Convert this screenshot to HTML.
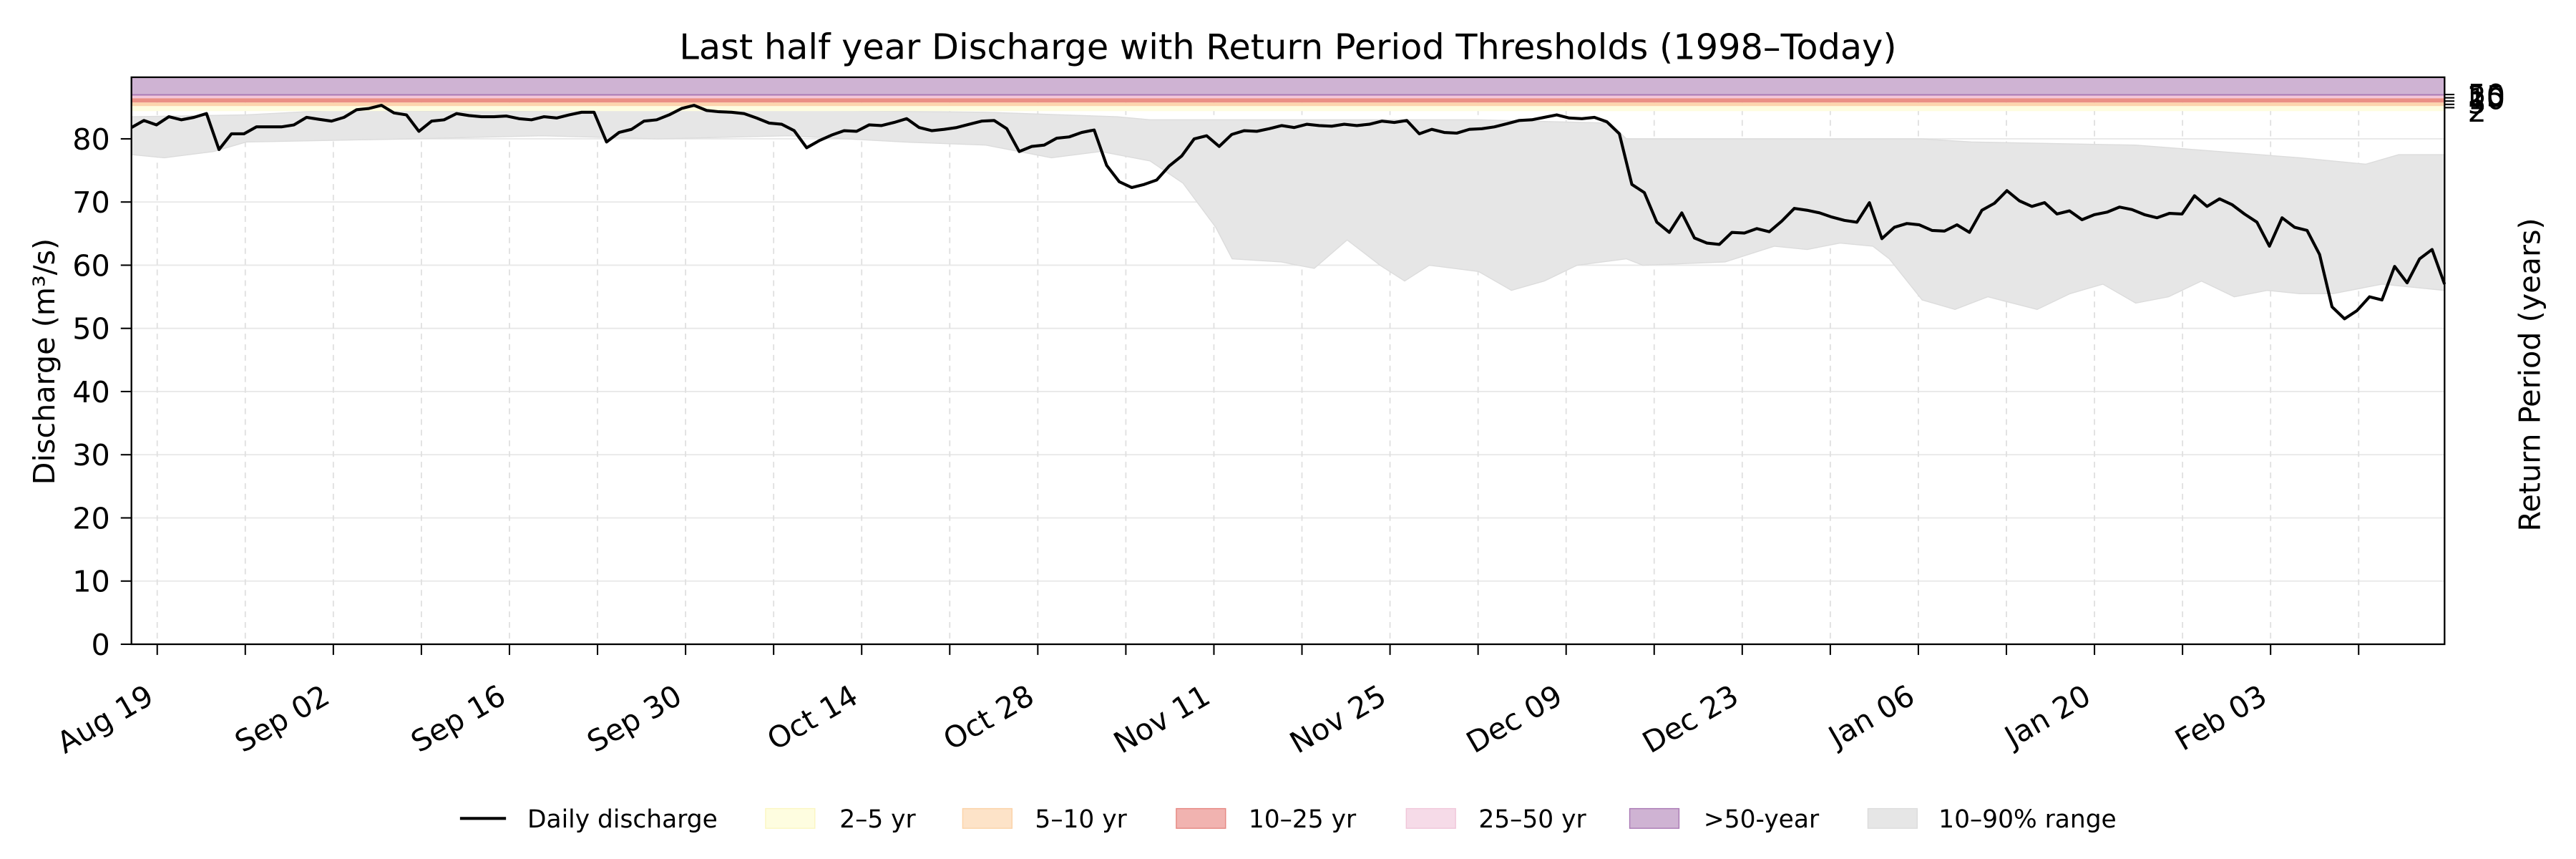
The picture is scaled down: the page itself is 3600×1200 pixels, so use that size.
<!DOCTYPE html>
<html><head><meta charset="utf-8"><style>
html,body{margin:0;padding:0;background:#fff}
svg{display:block}
text{font-family:"DejaVu Sans","Liberation Sans",sans-serif;fill:#000}
</style></head><body>
<svg id="s" width="3600" height="1200" viewBox="0 0 1568 522.67" xmlns="http://www.w3.org/2000/svg">
<rect x="0" y="0" width="1568" height="523" fill="#fff"/>
<g id="grid"></g>
<path id="band" fill="#e6e6e6" stroke="#dcdcdc" stroke-width="0.6"/>
<rect x="80" y="47" width="1408" height="10.5" fill="#cfb3d3"/>
<rect x="80" y="57.3" width="1408" height="0.9" fill="#a978b4"/>
<rect x="80" y="58.2" width="1408" height="1.6" fill="#f3c6d9"/>
<rect x="80" y="59.8" width="1408" height="2.6" fill="#ea8f85"/>
<rect x="80" y="62.4" width="1408" height="2.2" fill="#fcd5ae"/>
<rect x="80" y="64.6" width="1408" height="3" fill="#fefde0"/>
<polyline id="line" fill="none" stroke="#000" stroke-width="1.8" stroke-linejoin="round"/>
<rect x="80" y="47" width="1408" height="345" fill="none" stroke="#000" stroke-width="1"/>
<g id="ticks"></g>
<text x="784" y="36" font-size="21.5" text-anchor="middle">Last half year Discharge with Return Period Thresholds (1998–Today)</text>
<text transform="translate(33,220) rotate(-90)" font-size="18" text-anchor="middle">Discharge (m³/s)</text>
<text transform="translate(1546,228) rotate(-90)" font-size="18" text-anchor="middle">Return Period (years)</text>
<g stroke="#000" stroke-width="0.9">
<line x1="1488" y1="57.5" x2="1494" y2="57.5"/><line x1="1488" y1="59.5" x2="1494" y2="59.5"/>
<line x1="1488" y1="61.5" x2="1494" y2="61.5"/><line x1="1488" y1="63.5" x2="1494" y2="63.5"/><line x1="1488" y1="65.5" x2="1494" y2="65.5"/>
</g>
<g font-size="18">
<text x="1502" y="64">50</text><text x="1502" y="65">25</text><text x="1502" y="66.5">10</text><text x="1502" y="69">5</text><text x="1502" y="74">2</text>
</g>
<g font-size="15">
<line x1="280" y1="498" x2="308" y2="498" stroke="#000" stroke-width="1.8"/>
<text x="321" y="503.5">Daily discharge</text>
<rect x="466" y="492" width="30" height="12" fill="#fefde0" stroke="#fbf6c0" stroke-width="0.6"/><text x="511" y="503.5">2–5 yr</text>
<rect x="586" y="492" width="30" height="12" fill="#fde3c8" stroke="#fcd2a6" stroke-width="0.6"/><text x="630" y="503.5">5–10 yr</text>
<rect x="716" y="492" width="30" height="12" fill="#f1b3b0" stroke="#e58680" stroke-width="0.6"/><text x="760" y="503.5">10–25 yr</text>
<rect x="856" y="492" width="30" height="12" fill="#f6dbe8" stroke="#f0c6d9" stroke-width="0.6"/><text x="900" y="503.5">25–50 yr</text>
<rect x="992" y="492" width="30" height="12" fill="#cfb3d3" stroke="#a978b4" stroke-width="0.6"/><text x="1037" y="503.5">&gt;50-year</text>
<rect x="1137" y="492" width="30" height="12" fill="#e6e6e6" stroke="#dcdcdc" stroke-width="0.6"/><text x="1180" y="503.5">10–90% range</text>
</g>
<g id="labels" font-size="18"></g>
</svg>
<script>
var NS="http://www.w3.org/2000/svg";
function Y(v){return 392-v*3.844;}
function el(p,t,a,txt){var e=document.createElementNS(NS,t);for(var k in a)e.setAttribute(k,a[k]);if(txt!==undefined)e.textContent=txt;document.getElementById(p).appendChild(e);return e;}
for(var v=0;v<=80;v+=10){el("grid","line",{x1:80,x2:1488,y1:Y(v),y2:Y(v),stroke:"#e8e8e8","stroke-width":0.8});
 el("ticks","line",{x1:73.5,x2:80,y1:Y(v),y2:Y(v),stroke:"#000","stroke-width":0.9});
 el("labels","text",{x:67,y:Y(v)+6.5,"text-anchor":"end"},String(v));}
var names=["Aug 19","Sep 02","Sep 16","Sep 30","Oct 14","Oct 28","Nov 11","Nov 25","Dec 09","Dec 23","Jan 06","Jan 20","Feb 03"];
for(var k=0;k<26;k++){var x=95.7+k*53.6;if(x>1488)break;
 el("grid","line",{x1:x,x2:x,y1:47,y2:392,stroke:"#e0e0e0","stroke-width":0.8,"stroke-dasharray":"3.5,3"});
 el("ticks","line",{x1:x,x2:x,y1:392,y2:398.5,stroke:"#000","stroke-width":0.9});
 if(k%2==0){var n=names[k/2];el("labels","text",{transform:"translate("+(x-1)+",427) rotate(-30)","text-anchor":"end"},n);}}
var d=[81.8,82.9,82.2,83.5,83,83.4,84,78.3,80.8,80.8,81.9,81.9,81.9,82.2,83.4,83.1,82.8,83.4,84.6,84.8,85.3,84.1,83.8,81.2,
82.8,83,84,83.7,83.5,83.5,83.6,83.2,83,83.5,83.3,83.8,84.2,84.2,79.5,81,81.5,82.8,83,83.8,84.8,85.3,84.5,84.3,84.2,84,83.3,82.5,82.3,81.3,78.6,79.7,80.6,81.3,81.2,82.2,82.1,82.6,83.2,81.8,81.3,81.5,81.8,82.3,82.8,82.9,81.6,78,78.8,79,80.1,80.3,81,81.4,75.8,73.2,72.3,72.8,73.5,75.7,77.3,80,80.5,78.8,80.7,81.3,81.2,81.6,82.1,81.8,82.3,82.1,82,82.3,82.1,82.3,82.8,82.6,82.9,80.8,81.5,81,80.9,81.5,81.6,81.9,82.4,82.9,83,83.4,83.8,83.3,83.2,83.4,82.7,80.8,72.8,71.5,66.8,65.2,68.3,64.3,63.5,63.3,65.2,65.1,65.8,65.3,67,69,68.7,68.3,67.6,67.1,66.8,69.9,64.2,66,66.6,66.4,65.5,65.4,66.4,65.2,68.7,69.8,71.8,70.2,69.3,69.9,68.1,68.6,67.2,68,68.4,69.2,68.8,68,67.5,68.2,68.1,71,69.3,70.5,69.6,68.1,66.8,63,67.5,66,65.5,61.7,53.4,51.5,52.8,55,54.5,59.8,57.2,61,62.5,57];
var step=1408/(d.length-1),pts=[];
for(var i=0;i<d.length;i++)pts.push((80+i*step).toFixed(1)+","+Y(d[i]).toFixed(1));
document.getElementById("line").setAttribute("points",pts.join(" "));
var up=[[80,83.5],[150,83.8],[200,84.5],[300,84.3],[420,84.8],[500,84.5],[600,84.2],[680,83.5],[700,83],[800,83],[900,83],[980,82.5],[990,80],[1100,80],[1170,80],[1200,79.5],[1300,79],[1400,77],[1440,76],[1460,77.5],[1488,77.5]];
var lo=[[80,77.5],[100,77],[130,78],[150,79.5],[250,80],[330,80.5],[400,80],[480,80.5],[550,79.5],[600,79],[640,77],[670,78],[700,76.5],[720,73],[740,66],[750,61],[780,60.5],[790,60],[800,59.5],[820,64],[840,60],[855,57.5],[870,60],[900,59],[920,56],[940,57.5],[960,60],[990,61],[1000,60],[1050,60.5],[1080,63],[1100,62.5],[1120,63.5],[1140,63],[1150,61],[1170,54.5],[1190,53],[1210,55],[1240,53],[1260,55.5],[1280,57],[1300,54],[1320,55],[1340,57.5],[1360,55],[1380,56],[1400,55.5],[1420,55.5],[1450,57],[1488,56]];
var p="M"+up.map(function(a){return a[0]+","+Y(a[1]).toFixed(1)}).join(" L");
p+=" L"+lo.slice().reverse().map(function(a){return a[0]+","+Y(a[1]).toFixed(1)}).join(" L")+" Z";
document.getElementById("band").setAttribute("d",p);
</script>
</body></html>
